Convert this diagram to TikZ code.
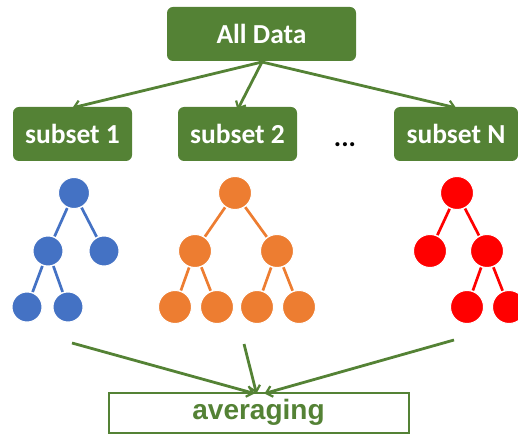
\documentclass[tikz,border=0pt]{standalone}
\usepackage{fontspec}
\setmainfont{Carlito}
\newfontfamily\arialfont{Liberation Sans}
\usetikzlibrary{arrows.meta}
\definecolor{grn}{RGB}{84,130,53}
\definecolor{tblue}{RGB}{68,114,196}
\definecolor{torange}{RGB}{237,125,49}
\definecolor{tred}{RGB}{255,0,0}
\tikzset{
  gbox/.style={fill=grn, draw=none, rounded corners=6pt, text=white, inner sep=0pt,
    minimum width=119pt, minimum height=54pt, font=\bfseries\fontsize{27.5}{30}\selectfont},
  garrow/.style={draw=grn, line width=2.8pt, -{Straight Barb[length=6pt,width=11pt,line width=2.2pt]}},
  tnode/.style={circle, inner sep=0pt, minimum size=#1, draw=white, line width=1pt},
  bnode/.style={tnode=30pt, fill=tblue},
  onode/.style={tnode=33pt, fill=torange},
  rnode/.style={tnode=33pt, fill=tred},
  bedge/.style={draw=tblue, line width=2.7pt, shorten <=0.5pt, shorten >=0.5pt},
  oedge/.style={draw=torange, line width=2.7pt, shorten <=0.5pt, shorten >=0.5pt},
  redge/.style={draw=tred, line width=2.7pt, shorten <=0.5pt, shorten >=0.5pt},
}
\begin{document}
\begin{tikzpicture}[x=1pt,y=-1pt]
\useasboundingbox (0,0) rectangle (518,435);
\clip (0,0) rectangle (518,435);
% top boxes
\node[gbox, minimum width=189pt] (all) at (261.5,34) {All Data};
\node[gbox] (s1) at (72.5,134) {subset 1};
\node[gbox] (s2) at (237.5,134) {subset 2};
\node[gbox, minimum width=124pt] (sN) at (456,134) {subset N};
\node[anchor=base, inner sep=0pt, font=\bfseries\fontsize{27.5}{30}\selectfont] (dots) at (345,146.5) {...};
\coordinate (src) at (262,62);
\draw[garrow] (src) -- ([yshift=-1pt]s1.north);
\draw[garrow] (src) -- ([yshift=-3pt]s2.north);
\draw[garrow] (src) -- ([yshift=-1pt]sN.north);
% blue tree
\node[bnode, minimum size=31pt] (b0) at (74,193) {};
\node[bnode] (b1) at (48,251) {};
\node[bnode] (b2) at (104,251) {};
\node[bnode] (b3) at (27,307) {};
\node[bnode] (b4) at (68,307) {};
\draw[bedge] (b0) -- (b1);
\draw[bedge] (b0) -- (b2);
\draw[bedge] (b1) -- (b3);
\draw[bedge] (b1) -- (b4);
% orange tree
\node[onode] (o0) at (235,193) {};
\node[onode] (o1) at (195,251) {};
\node[onode] (o2) at (277,251) {};
\node[onode] (o3) at (175,307) {};
\node[onode] (o4) at (217,307) {};
\node[onode] (o5) at (257,307) {};
\node[onode] (o6) at (299,307) {};
\draw[oedge] (o0) -- (o1);
\draw[oedge] (o0) -- (o2);
\draw[oedge] (o1) -- (o3);
\draw[oedge] (o1) -- (o4);
\draw[oedge] (o2) -- (o5);
\draw[oedge] (o2) -- (o6);
% red tree
\node[rnode] (r0) at (457,193) {};
\node[rnode] (r1) at (430,251) {};
\node[rnode] (r2) at (487,251) {};
\node[rnode] (r3) at (467,307) {};
\node[rnode] (r4) at (509,307) {};
\draw[redge] (r0) -- (r1);
\draw[redge] (r0) -- (r2);
\draw[redge] (r2) -- (r3);
\draw[redge] (r2) -- (r4);
% averaging
\node[draw=grn, line width=2pt, fill=white, minimum width=300pt, minimum height=40pt, inner sep=0pt,
  text=grn, font=\arialfont\bfseries\fontsize{28}{30}\selectfont] (avg) at (258.5,412.5) {averaging};
\coordinate (t1) at (72,343);
\coordinate (t2) at (244,344);
\coordinate (t3) at (454,340);
\draw[garrow] (t1) -- ([xshift=-4pt,yshift=-2pt]avg.north);
\draw[garrow] (t2) -- ([xshift=-2pt,yshift=-2pt]avg.north);
\draw[garrow] (t3) -- ([xshift=6pt,yshift=-2pt]avg.north);
\end{tikzpicture}
\end{document}
